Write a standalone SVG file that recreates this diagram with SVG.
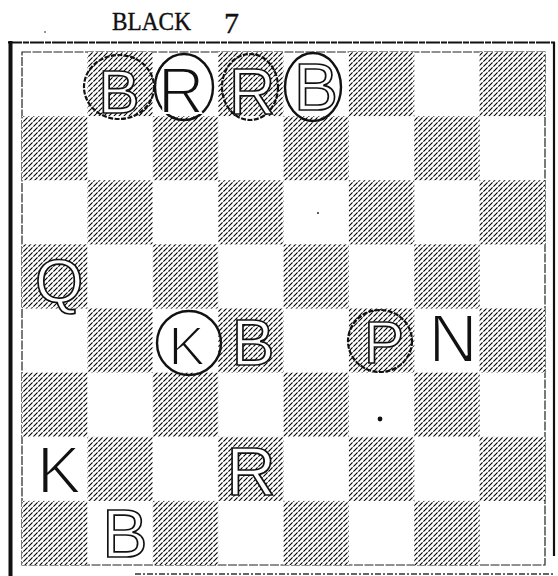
<svg xmlns="http://www.w3.org/2000/svg" width="558" height="576" viewBox="0 0 558 576">
<style>
.title{font-family:"Liberation Serif","Times New Roman",serif;fill:#111;stroke:#111;stroke-width:0.4}
.pc{font-family:"Liberation Sans",Arial,sans-serif;text-anchor:middle}
.ol{fill:#fff;stroke:#111;stroke-width:1.7}
.so{fill:#111;stroke:#fff;stroke-width:2}
.ring{fill:none;stroke:#111;stroke-width:2.4}
.ringd{fill:none;stroke:#111;stroke-width:2.2;stroke-dasharray:5 1.5}
.dk{fill:url(#hatch)}
</style>
<defs>
<pattern id="hatch" patternUnits="userSpaceOnUse" width="5" height="5">
<rect width="5" height="5" fill="#fff"/>
<path d="M0,5 L5,0 M-1,1 L1,-1 M4,6 L6,4" stroke="#000" stroke-width="1.1" stroke-dasharray="3.6 1.2"/>
</pattern>
</defs>
<rect width="558" height="576" fill="#fff"/>
<g id="title">
<text class="title" x="112" y="30" font-size="26" textLength="79" lengthAdjust="spacingAndGlyphs">BLACK</text>
<text class="title" x="224" y="33" font-size="30">7</text>
</g>
<g id="frame">
<rect x="8.5" y="41" width="4" height="535" fill="#111"/>
<line x1="8" y1="42.5" x2="555" y2="42.5" stroke="#111" stroke-width="2" stroke-dasharray="14 1 6 1"/>
<line x1="554" y1="42" x2="554" y2="556" stroke="#111" stroke-width="2.2"/>
<line x1="135" y1="574" x2="555" y2="574" stroke="#333" stroke-width="1.3" stroke-dasharray="6 2 2 2"/>
<rect x="22" y="52" width="523" height="513" fill="none" stroke="#222" stroke-width="1.2" stroke-dasharray="9 1.5"/>
</g>
<g id="board">
<rect class="dk" x="87.4" y="52" width="65.4" height="64.1"/>
<rect class="dk" x="218.1" y="52" width="65.4" height="64.1"/>
<rect class="dk" x="348.9" y="52" width="65.4" height="64.1"/>
<rect class="dk" x="479.6" y="52" width="65.4" height="64.1"/>
<rect class="dk" x="22" y="116.1" width="65.4" height="64.1"/>
<rect class="dk" x="152.8" y="116.1" width="65.4" height="64.1"/>
<rect class="dk" x="283.5" y="116.1" width="65.4" height="64.1"/>
<rect class="dk" x="414.3" y="116.1" width="65.4" height="64.1"/>
<rect class="dk" x="87.4" y="180.3" width="65.4" height="64.1"/>
<rect class="dk" x="218.1" y="180.3" width="65.4" height="64.1"/>
<rect class="dk" x="348.9" y="180.3" width="65.4" height="64.1"/>
<rect class="dk" x="479.6" y="180.3" width="65.4" height="64.1"/>
<rect class="dk" x="22" y="244.4" width="65.4" height="64.1"/>
<rect class="dk" x="152.8" y="244.4" width="65.4" height="64.1"/>
<rect class="dk" x="283.5" y="244.4" width="65.4" height="64.1"/>
<rect class="dk" x="414.3" y="244.4" width="65.4" height="64.1"/>
<rect class="dk" x="87.4" y="308.5" width="65.4" height="64.1"/>
<rect class="dk" x="218.1" y="308.5" width="65.4" height="64.1"/>
<rect class="dk" x="348.9" y="308.5" width="65.4" height="64.1"/>
<rect class="dk" x="479.6" y="308.5" width="65.4" height="64.1"/>
<rect class="dk" x="22" y="372.6" width="65.4" height="64.1"/>
<rect class="dk" x="152.8" y="372.6" width="65.4" height="64.1"/>
<rect class="dk" x="283.5" y="372.6" width="65.4" height="64.1"/>
<rect class="dk" x="414.3" y="372.6" width="65.4" height="64.1"/>
<rect class="dk" x="87.4" y="436.8" width="65.4" height="64.1"/>
<rect class="dk" x="218.1" y="436.8" width="65.4" height="64.1"/>
<rect class="dk" x="348.9" y="436.8" width="65.4" height="64.1"/>
<rect class="dk" x="479.6" y="436.8" width="65.4" height="64.1"/>
<rect class="dk" x="22" y="500.9" width="65.4" height="64.1"/>
<rect class="dk" x="152.8" y="500.9" width="65.4" height="64.1"/>
<rect class="dk" x="283.5" y="500.9" width="65.4" height="64.1"/>
<rect class="dk" x="414.3" y="500.9" width="65.4" height="64.1"/>
</g>
<g id="marks" fill="#111">
<circle cx="380" cy="419" r="2.4"/>
<circle cx="318" cy="213" r="0.9"/>
<circle cx="45" cy="32" r="0.8"/>
</g>
<g id="piece-b8">
<ellipse class="ringd" cx="119" cy="87" rx="35" ry="32"/>
<text class="pc ol" x="119" y="113" font-size="62">B</text>
</g>
<g id="piece-c8">
<ellipse class="ring" cx="184" cy="87" rx="29" ry="33"/>
<text class="pc so" x="181" y="113" font-size="64">R</text>
</g>
<g id="piece-d8">
<ellipse class="ringd" cx="250" cy="87" rx="28" ry="33"/>
<text class="pc ol" x="252" y="114" font-size="64">R</text>
</g>
<g id="piece-e8">
<ellipse class="ring" cx="313" cy="87" rx="28" ry="34"/>
<text class="pc ol" x="316" y="110" font-size="66">B</text>
</g>
<g id="piece-a5">
<text class="pc ol" x="59" y="302" font-size="62">Q</text>
</g>
<g id="piece-c4">
<ellipse class="ring" cx="189" cy="343" rx="32" ry="32"/>
<text class="pc so" x="187" y="365" font-size="56">K</text>
</g>
<g id="piece-d4">
<text class="pc ol" x="253" y="365" font-size="64">B</text>
</g>
<g id="piece-f4">
<ellipse class="ringd" cx="380" cy="341" rx="32" ry="31"/>
<text class="pc ol" x="384" y="363" font-size="60">P</text>
</g>
<g id="piece-g4">
<text class="pc so" x="453" y="362" font-size="68">N</text>
</g>
<g id="piece-a2">
<text class="pc so" x="59" y="493" font-size="67">K</text>
</g>
<g id="piece-d2">
<text class="pc ol" x="251" y="495" font-size="68">R</text>
</g>
<g id="piece-b1">
<text class="pc ol" x="125" y="557" font-size="68">B</text>
</g>
</svg>
